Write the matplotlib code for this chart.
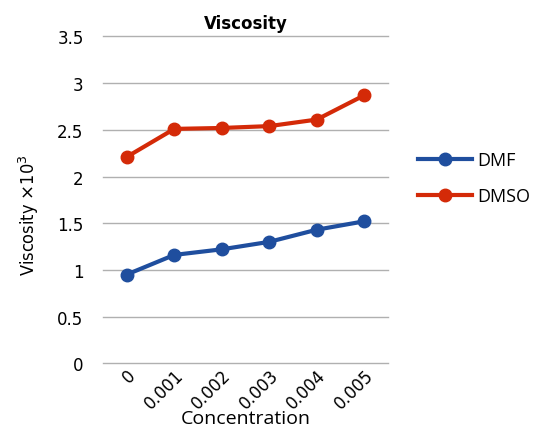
import matplotlib.pyplot as plt

concentration = ["0", "0.001", "0.002", "0.003", "0.004", "0.005"]
dmf = [0.95, 1.16, 1.22, 1.30, 1.43, 1.52]
dmso = [2.21, 2.51, 2.52, 2.54, 2.61, 2.87]

fig = plt.figure(figsize=(5.48, 4.31), dpi=100)
ax = fig.add_axes([0.188, 0.155, 0.520, 0.758])

x = range(len(concentration))
ax.plot(x, dmf, color="#1f4e9e", lw=3, marker="o", ms=9, label="DMF")
ax.plot(x, dmso, color="#d42a08", lw=3, marker="o", ms=9, label="DMSO")

ax.set_xlim(-0.5, len(concentration) - 0.5)
ax.set_ylim(0, 3.5)
ax.set_yticks([0, 0.5, 1, 1.5, 2, 2.5, 3, 3.5])
ax.set_yticklabels(["0", "0.5", "1", "1.5", "2", "2.5", "3", "3.5"])
ax.set_xticks(list(x))
ax.set_xticklabels(concentration, rotation=45, ha="right", rotation_mode="anchor",
                   fontsize=12)
ax.tick_params(axis="y", labelsize=12, length=0, pad=14)
ax.tick_params(axis="x", length=0, pad=2)
ax.grid(axis="y", color="#b0b0b0", lw=1)
for gl in ax.get_ygridlines():
    gl.set_clip_on(False)
ax.set_axisbelow(True)
for s in ax.spines.values():
    s.set_visible(False)

ax.set_title("Viscosity", fontsize=12, fontweight="bold", pad=6)
ax.set_xlabel("Concentration", fontsize=14, family="Open Sans", labelpad=-2)
fig.text(0.052, 0.5, "Viscosity $\\times$10$^3$", rotation=90, ha="center",
         va="center", fontsize=13, family="DejaVu Sans", stretch="condensed")

fig.legend(loc="center left", bbox_to_anchor=(0.762, 0.585), frameon=False,
           prop={"family": "Open Sans", "size": 13}, borderpad=0,
           borderaxespad=0, handlelength=3.0, handletextpad=0.3,
           labelspacing=1.0)

fig.savefig("out.png", dpi=100)
